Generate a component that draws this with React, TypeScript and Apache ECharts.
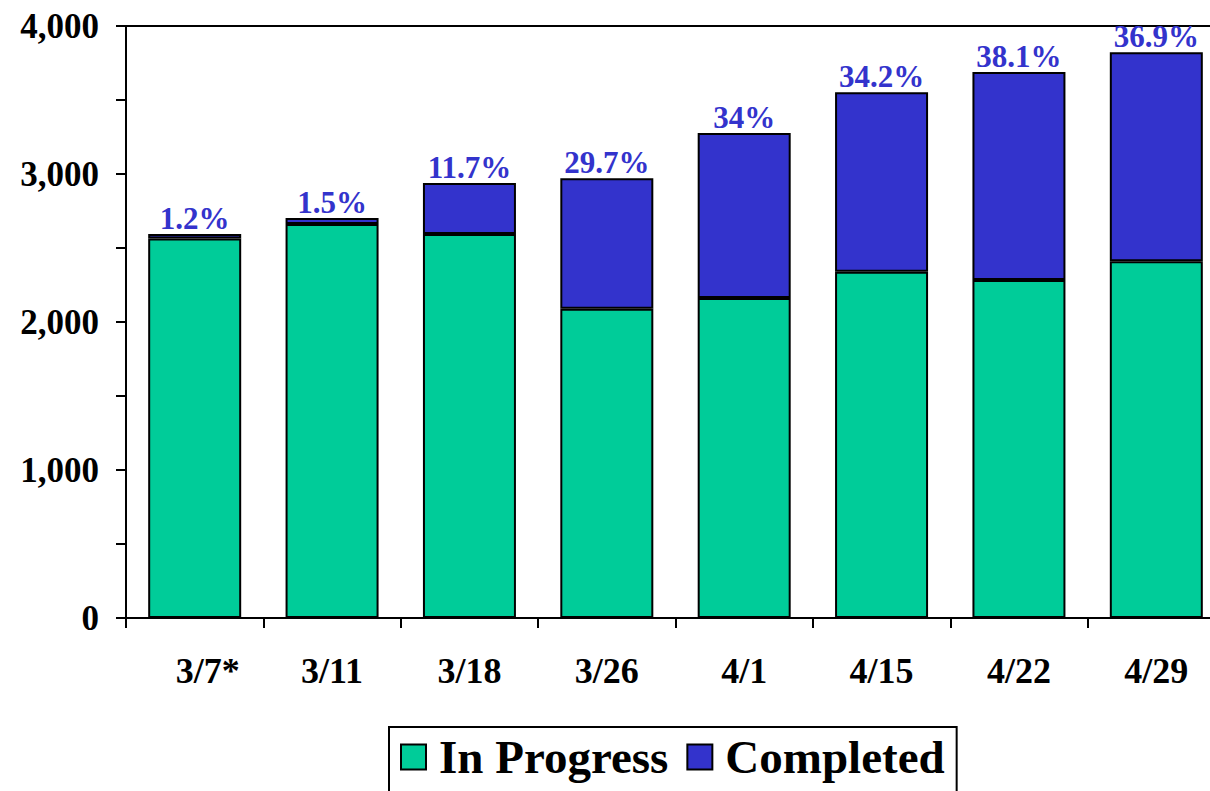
import React, { useEffect, useRef } from "react";
import * as echarts from "echarts";

const categories = ["3/7*", "3/11", "3/18", "3/26", "4/1", "4/15", "4/22", "4/29"];
const inProgress = [2564, 2662, 2595, 2089, 2163, 2340, 2283, 2410];
const completed = [31, 41, 344, 882, 1114, 1213, 1406, 1412];
const pctLabels = ["1.2%", "1.5%", "11.7%", "29.7%", "34%", "34.2%", "38.1%", "36.9%"];
const yTicks = [0, 1000, 2000, 3000, 4000];

const FONT = '"Liberation Serif", "Times New Roman", serif';
const GREEN = "#00CC99";
const BLUE = "#3333CC";

export default function App() {
  const ref = useRef<HTMLDivElement>(null);
  useEffect(() => {
    document.body.style.margin = "0";
    const chart = echarts.init(ref.current!, undefined, { renderer: "svg" });
    chart.setOption({
      animation: false,
      backgroundColor: "#ffffff",
      grid: {
        left: 126,
        right: 1,
        top: 26,
        bottom: 173,
        show: true,
        borderColor: "#000",
        borderWidth: 2,
        containLabel: false,
      },
      legend: {
        left: 389,
        top: 727,
        orient: "horizontal",
        itemWidth: 25,
        itemHeight: 25,
        itemGap: 18,
        padding: [6, 12, 60, 11],
        borderColor: "#000",
        borderWidth: 2,
        icon: "rect",
        textStyle: {
          fontFamily: FONT,
          fontWeight: "bold",
          fontSize: 47,
          lineHeight: 48,
          color: "#000",
          padding: [0, 0, 0, 8],
        },
        data: ["In Progress", "Completed"],
      },
      xAxis: {
        type: "category",
        data: categories,
        axisLine: { lineStyle: { color: "#000", width: 2 } },
        axisTick: { show: true, interval: 0, length: 10, lineStyle: { color: "#000", width: 2 } },
        axisLabel: {
          interval: 0,
          fontFamily: FONT,
          fontWeight: "bold",
          fontSize: 36,
          color: "#000",
          margin: 35,
          formatter: (v: string) => (v.endsWith("*") ? "{p|}" + v : v),
          rich: { p: { width: 26 } },
        },
      },
      yAxis: {
        type: "value",
        min: 0,
        max: 4000,
        interval: 500,
        splitLine: { show: false },
        axisLine: { show: true, lineStyle: { color: "#000", width: 2 } },
        axisTick: { show: true, length: 10, lineStyle: { color: "#000", width: 2 } },
        axisLabel: {
          fontFamily: FONT,
          fontWeight: "bold",
          fontSize: 35,
          color: "#000",
          margin: 27,
          formatter: (v: number) => (yTicks.includes(v) ? v.toLocaleString("en-US") : ""),
        },
      },
      series: [
        {
          name: "In Progress",
          type: "bar",
          stack: "total",
          barWidth: 93,
          data: inProgress,
          itemStyle: { color: GREEN, borderColor: "#000", borderWidth: 2 },
        },
        {
          name: "Completed",
          type: "bar",
          stack: "total",
          barWidth: 93,
          data: completed,
          itemStyle: { color: BLUE, borderColor: "#000", borderWidth: 2 },
          label: {
            show: true,
            position: "top",
            distance: 0,
            fontFamily: FONT,
            fontWeight: "bold",
            fontSize: 31,
            color: BLUE,
            formatter: (p: any) => pctLabels[p.dataIndex],
          },
        },
      ],
    });
    return () => chart.dispose();
  }, []);
  return (
    <div style={{ width: 1210, height: 791, overflow: "hidden", position: "relative" }}>
      <div ref={ref} style={{ width: 1226, height: 791 }} />
    </div>
  );
}
